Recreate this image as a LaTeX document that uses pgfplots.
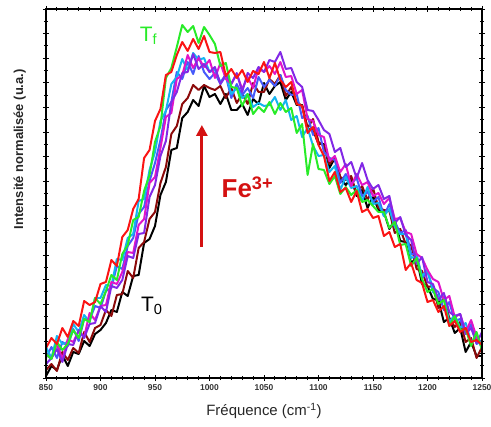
\documentclass[border=0pt]{standalone}
\usepackage{fontspec}
\setmainfont{Liberation Sans}
\usepackage{pgfplots}
\pgfplotsset{compat=1.18}
\usetikzlibrary{arrows.meta}
\definecolor{cDR}{RGB}{140,10,10}
\definecolor{cPu}{RGB}{130,40,230}
\definecolor{cMa}{RGB}{225,20,200}
\definecolor{cBl}{RGB}{70,90,250}
\definecolor{cCy}{RGB}{20,180,240}
\definecolor{cGr}{RGB}{40,235,40}
\definecolor{cRe}{RGB}{250,20,20}
\begin{document}
\begin{tikzpicture}
\begin{axis}[
 name=ax,
 scale only axis, width=436bp, height=369bp,
 xmin=850, xmax=1250, ymin=0, ymax=369,
 clip=false,
 xtick={850,900,...,1250}, minor x tick num=4,
 ytick={0,24.6,...,370}, minor y tick num=1, yticklabels={},
 tick align=center, major tick length=6bp, minor tick length=4bp,
 tick style={black, line width=0.9pt},
 axis line style={black, line width=1.2pt},
 /pgf/number format/assume math mode=true,
 /pgf/number format/1000 sep={},
 xticklabel style={font=\fontsize{8.5}{9}\selectfont\bfseries, text=black!80},
 xlabel={Fréquence (cm\textsuperscript{-1})},
 ylabel={Intensité normalisée (u.a.)},
 xlabel style={font=\fontsize{15}{16}\selectfont, text=black!85, at={(axis description cs:0.5,-0.09)}, anchor=center},
 ylabel style={font=\fontsize{13}{14}\selectfont\bfseries, text=black!85, at={(axis description cs:-0.06,0.62)}, anchor=center},
 every axis plot/.append style={line width=2pt, line join=round, mark=none}
]
\addplot[black] coordinates {(850,2)(855,12)(860,8)(865,23)(870,12)(875,26)(880,24)(885,37)(890,32)(895,44)
(900,48)(905,55)(910,68)(915,66)(920,86)(925,82)(930,102)(935,103)(940,135)(945,139)
(950,152)(955,183)(960,196)(965,228)(970,230)(975,260)(980,266)(985,278)(990,272)(995,292)
(1000,281)(1005,284)(1010,274)(1015,284)(1020,268)(1025,268)(1030,274)(1035,263)(1040,279)(1045,274)
(1050,295)(1055,284)(1060,292)(1065,296)(1070,278)(1075,286)(1080,273)(1085,273)(1090,249)(1095,248)
(1100,234)(1105,234)(1110,210)(1115,220)(1120,200)(1125,193)(1130,200)(1135,182)(1140,188)(1145,170)
(1150,182)(1155,168)(1160,166)(1165,149)(1170,158)(1175,137)(1180,136)(1185,115)(1190,120)(1195,94)
(1200,92)(1205,79)(1210,78)(1215,56)(1220,60)(1225,45)(1230,50)(1235,26)(1240,36)(1245,22)(1250,22)};
\addplot[cDR] coordinates {(850,8)(855,14)(860,7)(865,26)(870,18)(875,30)(880,25)(885,46)(890,36)(895,50)
(900,53)(905,68)(910,62)(915,83)(920,84)(925,107)(930,100)(935,130)(940,136)(945,159)
(950,166)(955,195)(960,211)(965,244)(970,252)(975,274)(980,280)(985,293)(990,288)(995,293)
(1000,290)(1005,288)(1010,292)(1015,280)(1020,290)(1025,275)(1030,284)(1035,274)(1040,295)(1045,286)
(1050,286)(1055,299)(1060,294)(1065,303)(1070,282)(1075,291)(1080,276)(1085,272)(1090,250)(1095,259)
(1100,236)(1105,232)(1110,214)(1115,220)(1120,201)(1125,198)(1130,202)(1135,184)(1140,192)(1145,178)
(1150,190)(1155,170)(1160,168)(1165,167)(1170,145)(1175,149)(1180,134)(1185,133)(1190,109)(1195,107)
(1200,91)(1205,92)(1210,70)(1215,80)(1220,60)(1225,51)(1230,56)(1235,36)(1240,40)(1245,20)(1250,31)};
\addplot[cBl] coordinates {(850,20)(855,31)(860,20)(865,36)(870,32)(875,49)(880,37)(885,59)(890,58)(895,72)
(900,70)(905,87)(910,90)(915,112)(920,109)(925,132)(930,140)(935,164)(940,171)(945,197)
(950,215)(955,238)(960,268)(965,276)(970,306)(975,299)(980,316)(985,304)(990,322)(995,306)
(1000,299)(1005,305)(1010,294)(1015,302)(1020,280)(1025,294)(1030,283)(1035,290)(1040,280)(1045,301)
(1050,291)(1055,298)(1060,292)(1065,303)(1070,288)(1075,283)(1080,284)(1085,260)(1090,262)(1095,243)
(1100,250)(1105,226)(1110,220)(1115,218)(1120,195)(1125,204)(1130,194)(1135,200)(1140,182)(1145,186)
(1150,176)(1155,181)(1160,162)(1165,174)(1170,156)(1175,145)(1180,148)(1185,124)(1190,124)(1195,100)
(1200,106)(1205,90)(1210,86)(1215,68)(1220,76)(1225,57)(1230,59)(1235,44)(1240,54)(1245,34)(1250,38)};
\addplot[cCy] coordinates {(850,31)(855,20)(860,42)(865,34)(870,36)(875,54)(880,46)(885,63)(890,56)(895,80)
(900,80)(905,93)(910,92)(915,119)(920,118)(925,140)(930,144)(935,177)(940,179)(945,208)
(950,226)(955,257)(960,267)(965,294)(970,301)(975,319)(980,308)(985,325)(990,318)(995,320)
(1000,306)(1005,308)(1010,296)(1015,303)(1020,284)(1025,290)(1030,280)(1035,284)(1040,271)(1045,275)
(1050,272)(1055,273)(1060,281)(1065,268)(1070,278)(1075,258)(1080,262)(1085,241)(1090,250)(1095,232)
(1100,222)(1105,223)(1110,206)(1115,212)(1120,188)(1125,201)(1130,190)(1135,192)(1140,177)(1145,191)
(1150,174)(1155,175)(1160,162)(1165,169)(1170,151)(1175,144)(1180,144)(1185,120)(1190,122)(1195,102)
(1200,108)(1205,86)(1210,82)(1215,80)(1220,56)(1225,63)(1230,50)(1235,55)(1240,36)(1245,40)(1250,30)};
\addplot[cMa] coordinates {(850,24)(855,19)(860,34)(865,19)(870,39)(875,36)(880,47)(885,41)(890,65)(895,58)
(900,72)(905,73)(910,96)(915,94)(920,106)(925,126)(930,125)(935,153)(940,159)(945,195)
(950,201)(955,230)(960,261)(965,265)(970,299)(975,303)(980,323)(985,310)(990,320)(995,311)
(1000,318)(1005,300)(1010,315)(1015,299)(1020,294)(1025,304)(1030,289)(1035,301)(1040,290)(1045,310)
(1050,306)(1055,312)(1060,304)(1065,316)(1070,301)(1075,302)(1080,284)(1085,288)(1090,259)(1095,257)
(1100,243)(1105,241)(1110,217)(1115,222)(1120,206)(1125,214)(1130,192)(1135,204)(1140,193)(1145,196)
(1150,182)(1155,185)(1160,174)(1165,180)(1170,159)(1175,160)(1180,146)(1185,144)(1190,124)(1195,120)
(1200,108)(1205,99)(1210,96)(1215,78)(1220,82)(1225,61)(1230,64)(1235,46)(1240,58)(1245,41)(1250,32)};
\addplot[cPu] coordinates {(850,14)(855,20)(860,29)(865,16)(870,34)(875,33)(880,48)(885,40)(890,54)(895,55)
(900,72)(905,66)(910,92)(915,90)(920,98)(925,122)(930,120)(935,144)(940,145)(945,181)
(950,193)(955,222)(960,237)(965,276)(970,286)(975,305)(980,306)(985,324)(990,309)(995,314)
(1000,306)(1005,311)(1010,294)(1015,304)(1020,294)(1025,305)(1030,286)(1035,305)(1040,300)(1045,311)
(1050,306)(1055,318)(1060,316)(1065,326)(1070,309)(1075,310)(1080,296)(1085,291)(1090,268)(1095,267)
(1100,258)(1105,248)(1110,244)(1115,226)(1120,230)(1125,211)(1130,216)(1135,200)(1140,215)(1145,198)
(1150,189)(1155,193)(1160,179)(1165,182)(1170,155)(1175,161)(1180,143)(1185,138)(1190,114)(1195,121)
(1200,96)(1205,94)(1210,78)(1215,85)(1220,66)(1225,62)(1230,64)(1235,44)(1240,50)(1245,35)(1250,46)};
\addplot[cGr] coordinates {(850,24)(855,19)(860,36)(865,28)(870,34)(875,48)(880,40)(885,59)(890,56)(895,80)
(900,74)(905,87)(910,103)(915,98)(920,124)(925,133)(930,158)(935,161)(940,187)(945,203)
(950,236)(955,252)(960,300)(965,310)(970,331)(975,353)(980,346)(985,352)(990,335)(995,351)
(1000,343)(1005,334)(1010,312)(1015,315)(1020,291)(1025,290)(1030,272)(1035,284)(1040,264)(1045,271)
(1050,266)(1055,276)(1060,264)(1065,275)(1070,266)(1075,270)(1080,245)(1085,254)(1090,203)(1095,234)
(1100,209)(1105,208)(1110,194)(1115,202)(1120,184)(1125,191)(1130,183)(1135,188)(1140,176)(1145,178)
(1150,172)(1155,166)(1160,166)(1165,150)(1170,156)(1175,133)(1180,134)(1185,112)(1190,120)(1195,99)
(1200,86)(1205,89)(1210,74)(1215,78)(1220,52)(1225,62)(1230,48)(1235,49)(1240,32)(1245,46)(1250,28)};
\addplot[cRe] coordinates {(850,30)(855,40)(860,34)(865,50)(870,41)(875,57)(880,52)(885,77)(890,73)(895,76)
(900,94)(905,96)(910,118)(915,112)(920,141)(925,148)(930,169)(935,179)(940,220)(945,228)
(950,257)(955,269)(960,303)(965,306)(970,323)(975,336)(980,327)(985,339)(990,329)(995,342)
(1000,326)(1005,325)(1010,326)(1015,302)(1020,309)(1025,300)(1030,308)(1035,296)(1040,307)(1045,304)
(1050,316)(1055,300)(1060,315)(1065,298)(1070,291)(1075,296)(1080,274)(1085,272)(1090,245)(1095,251)
(1100,233)(1105,222)(1110,197)(1115,206)(1120,186)(1125,190)(1130,176)(1135,187)(1140,166)(1145,169)
(1150,160)(1155,162)(1160,142)(1165,146)(1170,131)(1175,134)(1180,108)(1185,115)(1190,98)(1195,95)
(1200,76)(1205,78)(1210,66)(1215,72)(1220,52)(1225,57)(1230,46)(1235,50)(1240,36)(1245,38)(1250,33)};
\draw[-{Triangle[width=11bp,length=11bp]}, color=cRe!85!black, line width=2.8bp] (axis cs:993,131) -- (axis cs:993,253);
\node[anchor=base west, text=cRe!85!black, font=\fontsize{26}{28}\selectfont\bfseries, inner sep=0pt] at (axis cs:1011,180) {Fe\textsuperscript{3+}};
\node[text=cGr, font=\fontsize{21}{22}\selectfont, inner sep=0pt] at (axis cs:944,342) {T\textsubscript{f}};
\node[text=black, font=\fontsize{21}{22}\selectfont, inner sep=0pt] at (axis cs:947,72) {T\textsubscript{0}};
\end{axis}
\draw[black, line width=1.2pt, line join=miter] (ax.south west) -- (ax.south east) -- (ax.north east) -- (ax.north west) -- cycle;
\pgfresetboundingbox
\path[use as bounding box] ([xshift=-46bp,yshift=-49bp]ax.south west) rectangle ([xshift=9bp,yshift=9bp]ax.north east);
\end{tikzpicture}
\end{document}
